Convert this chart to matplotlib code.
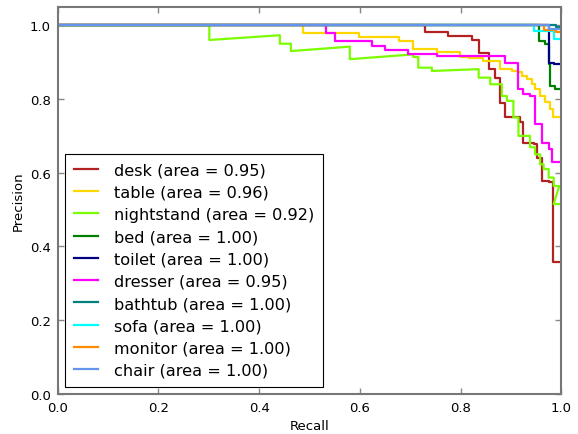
import matplotlib
matplotlib.use('Agg')
import matplotlib.pyplot as plt

# class names, AP values and colours (legend order)
classes = ['desk', 'table', 'nightstand', 'bed', 'toilet',
           'dresser', 'bathtub', 'sofa', 'monitor', 'chair']
areas = [0.95, 0.96, 0.92, 1.00, 1.00, 0.95, 1.00, 1.00, 1.00, 1.00]
colors = ['firebrick', 'gold', 'lawngreen', 'green', 'navy',
          'magenta', 'teal', 'cyan', 'darkorange', 'cornflowerblue']

# precision/recall vertices
desk_recall = [0, 0.730, 0.730, 0.776, 0.776, 0.822, 0.822, 0.836, 0.836, 0.857, 0.857,
               0.869, 0.869, 0.879, 0.879, 0.889, 0.889, 0.918, 0.918, 0.925, 0.925,
               0.945, 0.945, 0.952, 0.952, 0.962, 0.962, 0.975, 0.975, 0.983, 0.983, 0.996]
desk_prec = [1, 1, 0.982, 0.982, 0.971, 0.971, 0.960, 0.960, 0.926, 0.926, 0.881,
             0.881, 0.858, 0.858, 0.789, 0.789, 0.750, 0.750, 0.737, 0.737, 0.682,
             0.682, 0.677, 0.677, 0.641, 0.641, 0.578, 0.578, 0.574, 0.574, 0.357, 0.357]

table_recall = [0, 0.488, 0.488, 0.598, 0.598, 0.677, 0.677, 0.706, 0.706, 0.753, 0.753,
                0.799, 0.799, 0.816, 0.816, 0.845, 0.845, 0.879, 0.879, 0.902, 0.902,
                0.915, 0.915, 0.922, 0.922, 0.932, 0.932, 0.942, 0.942, 0.948, 0.948,
                0.958, 0.958, 0.968, 0.968, 0.978, 0.978, 0.984, 0.984, 0.996]
table_prec = [1, 1, 0.980, 0.980, 0.969, 0.969, 0.956, 0.956, 0.935, 0.935, 0.928,
              0.928, 0.915, 0.915, 0.910, 0.910, 0.903, 0.903, 0.881, 0.881, 0.876,
              0.876, 0.872, 0.872, 0.863, 0.863, 0.854, 0.854, 0.840, 0.840, 0.827,
              0.827, 0.809, 0.809, 0.791, 0.791, 0.772, 0.772, 0.750, 0.750]

nightstand_recall = [0, 0.301, 0.301, 0.441, 0.441, 0.463, 0.463, 0.580, 0.580, 0.706,
                     0.706, 0.716, 0.716, 0.743, 0.743, 0.836, 0.836, 0.859, 0.859,
                     0.882, 0.882, 0.892, 0.892, 0.905, 0.905, 0.915, 0.915, 0.938,
                     0.938, 0.948, 0.948, 0.958, 0.958, 0.965, 0.965, 0.975, 0.975,
                     0.985, 0.985, 0.996]
nightstand_prec = [1, 1, 0.960, 0.973, 0.950, 0.950, 0.930, 0.942, 0.908, 0.921,
                   0.914, 0.914, 0.885, 0.885, 0.876, 0.881, 0.858, 0.858, 0.840,
                   0.840, 0.808, 0.808, 0.795, 0.795, 0.750, 0.750, 0.700, 0.700,
                   0.669, 0.669, 0.650, 0.650, 0.623, 0.623, 0.610, 0.610, 0.587,
                   0.587, 0.564, 0.564]
nightstand_tail_recall = [0.985, 0.996]
nightstand_tail_prec = [0.515, 0.515]

bed_recall = [0, 0.955, 0.955, 0.968, 0.968, 0.975, 0.975, 0.978, 0.978, 0.988, 0.988, 0.997]
bed_prec = [1, 1, 0.957, 0.957, 0.949, 0.949, 0.894, 0.894, 0.835, 0.835, 0.828, 0.828]

toilet_recall = [0, 0.975, 0.975, 0.985, 0.985, 0.998]
toilet_prec = [1, 1, 0.899, 0.899, 0.894, 0.894]

dresser_recall = [0, 0.533, 0.533, 0.550, 0.550, 0.624, 0.624, 0.650, 0.650, 0.696, 0.696,
                  0.753, 0.753, 0.889, 0.889, 0.915, 0.915, 0.925, 0.925, 0.938, 0.938,
                  0.948, 0.948, 0.962, 0.962, 0.975, 0.975, 0.982, 0.982, 0.996]
dresser_prec = [1, 1, 0.978, 0.978, 0.957, 0.957, 0.944, 0.944, 0.932, 0.932, 0.923,
                0.923, 0.916, 0.916, 0.899, 0.899, 0.827, 0.827, 0.813, 0.813, 0.808,
                0.808, 0.732, 0.732, 0.682, 0.682, 0.664, 0.664, 0.628, 0.628]

bathtub_recall = [0, 0.990, 0.990, 1.0]
bathtub_prec = [1, 1, 0.995, 0.995]

sofa_recall = [0, 0.945, 0.945, 0.985, 0.985, 0.998]
sofa_prec = [1, 1, 0.985, 0.985, 0.962, 0.962]

monitor_recall = [0, 0.965, 0.965, 0.990, 0.990, 1.0]
monitor_prec = [1, 1, 0.988, 0.988, 0.982, 0.982]

chair_recall = [0, 0.975, 0.975, 1.0]
chair_prec = [1, 1, 0.990, 0.990]

curves = [
    (desk_recall, desk_prec),
    (table_recall, table_prec),
    (nightstand_recall + nightstand_tail_recall, nightstand_prec + nightstand_tail_prec),
    (bed_recall, bed_prec),
    (toilet_recall, toilet_prec),
    (dresser_recall, dresser_prec),
    (bathtub_recall, bathtub_prec),
    (sofa_recall, sofa_prec),
    (monitor_recall, monitor_prec),
    (chair_recall, chair_prec),
]

fig = plt.figure(figsize=(5.78, 4.35), dpi=100)
ax = fig.add_axes([0.100, 0.092, 0.871, 0.890])

for (rec, prec), name, area, col in zip(curves, classes, areas, colors):
    ax.plot(rec, prec, color=col, lw=1.6,
            label='{0} (area = {1:0.2f})'.format(name, area))

ax.set_xlim(0.0, 1.0)
ax.set_ylim(0.0, 1.05)
ax.set_xticks([0.0, 0.2, 0.4, 0.6, 0.8, 1.0])
ax.set_yticks([0.0, 0.2, 0.4, 0.6, 0.8, 1.0])
ax.set_xlabel('Recall', fontsize=9.5)
ax.set_ylabel('Precision', fontsize=9.5)
ax.tick_params(direction='in', top=True, right=True, length=4, width=1,
               color='#888888', labelsize=9.5, pad=5)
for sp in ax.spines.values():
    sp.set_color('#777777')
    sp.set_linewidth(1.5)

leg = ax.legend(loc='lower left', fontsize=11.6, fancybox=False, framealpha=1,
                edgecolor='black', handlelength=1.5, handletextpad=1.0,
                labelspacing=0.45, borderpad=0.55, borderaxespad=0.45)
leg.get_frame().set_linewidth(0.8)

fig.savefig('out.png', dpi=100)
